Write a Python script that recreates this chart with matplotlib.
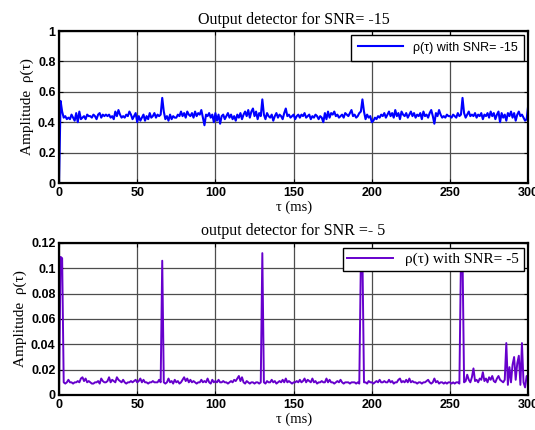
import numpy as np
import matplotlib
matplotlib.use("Agg")
import matplotlib.pyplot as plt

# detector output sampled every 1 ms, 0..300 ms
tau_ms = list(range(301))

rho_snr15 = [
    0.00, 0.54, 0.47, 0.43, 0.44, 0.42, 0.43, 0.42, 0.45, 0.43,
    0.41, 0.46, 0.40, 0.47, 0.42, 0.43, 0.44, 0.42, 0.45, 0.44,
    0.44, 0.43, 0.45, 0.44, 0.42, 0.45, 0.46, 0.43, 0.45, 0.44,
    0.45, 0.44, 0.45, 0.43, 0.44, 0.42, 0.47, 0.44, 0.48, 0.45,
    0.43, 0.44, 0.43, 0.45, 0.44, 0.47, 0.45, 0.42, 0.44, 0.46,
    0.40, 0.44, 0.41, 0.43, 0.45, 0.41, 0.44, 0.42, 0.46, 0.43,
    0.44, 0.46, 0.43, 0.45, 0.44, 0.45, 0.56, 0.47, 0.42, 0.44,
    0.41, 0.45, 0.42, 0.44, 0.43, 0.43, 0.45, 0.44, 0.47, 0.44,
    0.46, 0.43, 0.47, 0.45, 0.44, 0.46, 0.43, 0.47, 0.44, 0.46,
    0.45, 0.48, 0.43, 0.38, 0.45, 0.44, 0.46, 0.43, 0.45, 0.40,
    0.46, 0.41, 0.45, 0.39, 0.44, 0.45, 0.42, 0.44, 0.46, 0.43,
    0.45, 0.42, 0.44, 0.41, 0.45, 0.43, 0.46, 0.42, 0.45, 0.47,
    0.44, 0.48, 0.43, 0.47, 0.49, 0.44, 0.47, 0.42, 0.46, 0.44,
    0.55, 0.45, 0.42, 0.46, 0.44, 0.43, 0.45, 0.41, 0.44, 0.46,
    0.43, 0.45, 0.44, 0.42, 0.46, 0.49, 0.44, 0.45, 0.43, 0.44,
    0.45, 0.42, 0.44, 0.45, 0.43, 0.45, 0.44, 0.46, 0.43, 0.44,
    0.45, 0.42, 0.44, 0.43, 0.45, 0.44, 0.42, 0.44, 0.43, 0.40,
    0.46, 0.42, 0.47, 0.43, 0.46, 0.45, 0.47, 0.44, 0.45, 0.43,
    0.44, 0.45, 0.43, 0.46, 0.45, 0.44, 0.46, 0.48, 0.44, 0.45,
    0.43, 0.44, 0.46, 0.47, 0.55, 0.47, 0.42, 0.45, 0.43, 0.44,
    0.40, 0.41, 0.43, 0.42, 0.44, 0.43, 0.45, 0.44, 0.46, 0.43,
    0.45, 0.47, 0.44, 0.46, 0.43, 0.48, 0.44, 0.46, 0.42, 0.47,
    0.45, 0.44, 0.46, 0.43, 0.45, 0.47, 0.44, 0.46, 0.43, 0.45,
    0.44, 0.46, 0.42, 0.47, 0.44, 0.45, 0.43, 0.46, 0.48, 0.44,
    0.39, 0.46, 0.44, 0.48, 0.45, 0.43, 0.44, 0.43, 0.45, 0.44,
    0.44, 0.43, 0.45, 0.44, 0.43, 0.46, 0.44, 0.45, 0.56, 0.46,
    0.43, 0.45, 0.47, 0.44, 0.45, 0.44, 0.46, 0.43, 0.45, 0.44,
    0.46, 0.42, 0.45, 0.44, 0.46, 0.43, 0.47, 0.44, 0.46, 0.42,
    0.45, 0.47, 0.40, 0.46, 0.43, 0.45, 0.41, 0.46, 0.44, 0.47,
    0.43, 0.46, 0.41, 0.45, 0.47, 0.44, 0.45, 0.43, 0.41, 0.42,
    0.51,
]

rho_snr5 = [
    0.000, 0.109, 0.108, 0.010, 0.009, 0.010, 0.012, 0.010, 0.010, 0.009,
    0.010, 0.010, 0.011, 0.010, 0.013, 0.014, 0.011, 0.013, 0.010, 0.011,
    0.010, 0.009, 0.009, 0.010, 0.010, 0.011, 0.009, 0.013, 0.011, 0.010,
    0.010, 0.011, 0.014, 0.010, 0.012, 0.011, 0.010, 0.014, 0.012, 0.011,
    0.010, 0.012, 0.010, 0.009, 0.010, 0.010, 0.011, 0.010, 0.011, 0.012,
    0.010, 0.011, 0.013, 0.010, 0.012, 0.010, 0.010, 0.009, 0.010, 0.010,
    0.011, 0.010, 0.010, 0.010, 0.012, 0.010, 0.106, 0.010, 0.009, 0.010,
    0.013, 0.010, 0.011, 0.009, 0.012, 0.010, 0.011, 0.009, 0.010, 0.012,
    0.014, 0.011, 0.013, 0.010, 0.012, 0.010, 0.011, 0.010, 0.009, 0.010,
    0.010, 0.012, 0.010, 0.011, 0.010, 0.013, 0.010, 0.009, 0.012, 0.010,
    0.011, 0.010, 0.012, 0.010, 0.010, 0.011, 0.010, 0.010, 0.009, 0.010,
    0.011, 0.010, 0.012, 0.011, 0.013, 0.015, 0.011, 0.014, 0.010, 0.009,
    0.011, 0.010, 0.009, 0.010, 0.010, 0.009, 0.010, 0.010, 0.009, 0.010,
    0.112, 0.010, 0.009, 0.011, 0.010, 0.010, 0.012, 0.010, 0.011, 0.009,
    0.010, 0.011, 0.010, 0.012, 0.010, 0.013, 0.010, 0.011, 0.010, 0.009,
    0.010, 0.010, 0.011, 0.010, 0.012, 0.010, 0.011, 0.013, 0.010, 0.012,
    0.011, 0.010, 0.013, 0.010, 0.011, 0.009, 0.010, 0.010, 0.011, 0.010,
    0.010, 0.013, 0.010, 0.012, 0.010, 0.010, 0.009, 0.010, 0.011, 0.010,
    0.012, 0.010, 0.009, 0.010, 0.010, 0.010, 0.009, 0.010, 0.010, 0.010,
    0.009, 0.010, 0.009, 0.106, 0.110, 0.010, 0.010, 0.009, 0.011, 0.010,
    0.010, 0.009, 0.010, 0.011, 0.010, 0.012, 0.010, 0.010, 0.011, 0.010,
    0.010, 0.012, 0.010, 0.011, 0.009, 0.010, 0.010, 0.012, 0.013, 0.010,
    0.011, 0.010, 0.012, 0.010, 0.013, 0.010, 0.011, 0.010, 0.010, 0.009,
    0.010, 0.010, 0.009, 0.010, 0.010, 0.011, 0.012, 0.010, 0.009, 0.010,
    0.013, 0.010, 0.011, 0.009, 0.010, 0.010, 0.009, 0.010, 0.009, 0.010,
    0.010, 0.009, 0.010, 0.009, 0.010, 0.010, 0.009, 0.108, 0.110, 0.010,
    0.011, 0.016, 0.012, 0.010, 0.014, 0.021, 0.011, 0.012, 0.010, 0.013,
    0.012, 0.018, 0.011, 0.013, 0.010, 0.014, 0.012, 0.015, 0.011, 0.010,
    0.013, 0.015, 0.012, 0.011, 0.010, 0.012, 0.041, 0.008, 0.022, 0.010,
    0.024, 0.030, 0.012, 0.025, 0.031, 0.008, 0.041, 0.010, 0.006, 0.015,
    0.012,
]

top_yticks = [0, 0.2, 0.4, 0.6, 0.8, 1]
top_ylabels = ["0", "0.2", "0.4", "0.6", "0.8", "1"]
bot_yticks = [0, 0.02, 0.04, 0.06, 0.08, 0.1, 0.12]
bot_ylabels = ["0", "0.02", "0.04", "0.06", "0.08", "0.1", "0.12"]
xticks = [0, 50, 100, 150, 200, 250, 300]

serif = "Liberation Serif"
sans = "Liberation Sans"

fig = plt.figure(figsize=(5.35, 4.30), dpi=100)
ax1 = fig.add_axes([0.1103, 0.5744, 0.877, 0.3535])
ax2 = fig.add_axes([0.1103, 0.0814, 0.877, 0.3535])


def style_axes(ax, yticks, ylabels):
    ax.set_xlim(0, 300)
    ax.set_xticks(xticks)
    ax.set_xticklabels([str(t) for t in xticks], family=sans, weight="bold", fontsize=9)
    ax.set_ylim(yticks[0], yticks[-1])
    ax.set_yticks(yticks)
    ax.set_yticklabels(ylabels, family=sans, weight="bold", fontsize=9)
    ax.tick_params(direction="in", length=3, width=0.8, top=True, right=True)
    ax.tick_params(axis="x", pad=3)
    ax.tick_params(axis="y", pad=2.5)
    ax.grid(True, color="0.3", linewidth=0.9)
    ax.set_axisbelow(True)
    for sp in ax.spines.values():
        sp.set_linewidth(1.6)
    ax.set_xlabel("τ (ms)", family=serif, fontsize=10.5, labelpad=1)
    ax.set_ylabel("Amplitude  ρ(τ)", family=serif, fontsize=11, labelpad=3)


ax1.plot(tau_ms, rho_snr15, color="#0000ff", linewidth=1.5,
         label="ρ(τ) with SNR= -15")
style_axes(ax1, top_yticks, top_ylabels)
ax1.set_title("Output detector for SNR= -15", family=serif, fontsize=11.5, pad=5)
leg1 = ax1.legend(loc="upper right", prop={"family": sans, "size": 9},
                  handlelength=3.6, fancybox=False, framealpha=1,
                  edgecolor="black", borderaxespad=0.3, borderpad=0.55)
leg1.get_frame().set_linewidth(1.0)

ax2.plot(tau_ms, rho_snr5, color="#6600cc", linewidth=1.4,
         label="ρ(τ) with SNR= -5")
style_axes(ax2, bot_yticks, bot_ylabels)
ax2.set_title("output detector for SNR =- 5", family=serif, fontsize=11.5, pad=6)
leg2 = ax2.legend(loc="upper right", prop={"family": serif, "size": 11},
                  handlelength=3.0, fancybox=False, framealpha=1,
                  edgecolor="black", borderaxespad=0.3, borderpad=0.3)
leg2.get_frame().set_linewidth(1.0)

fig.savefig("out.png", dpi=100)
